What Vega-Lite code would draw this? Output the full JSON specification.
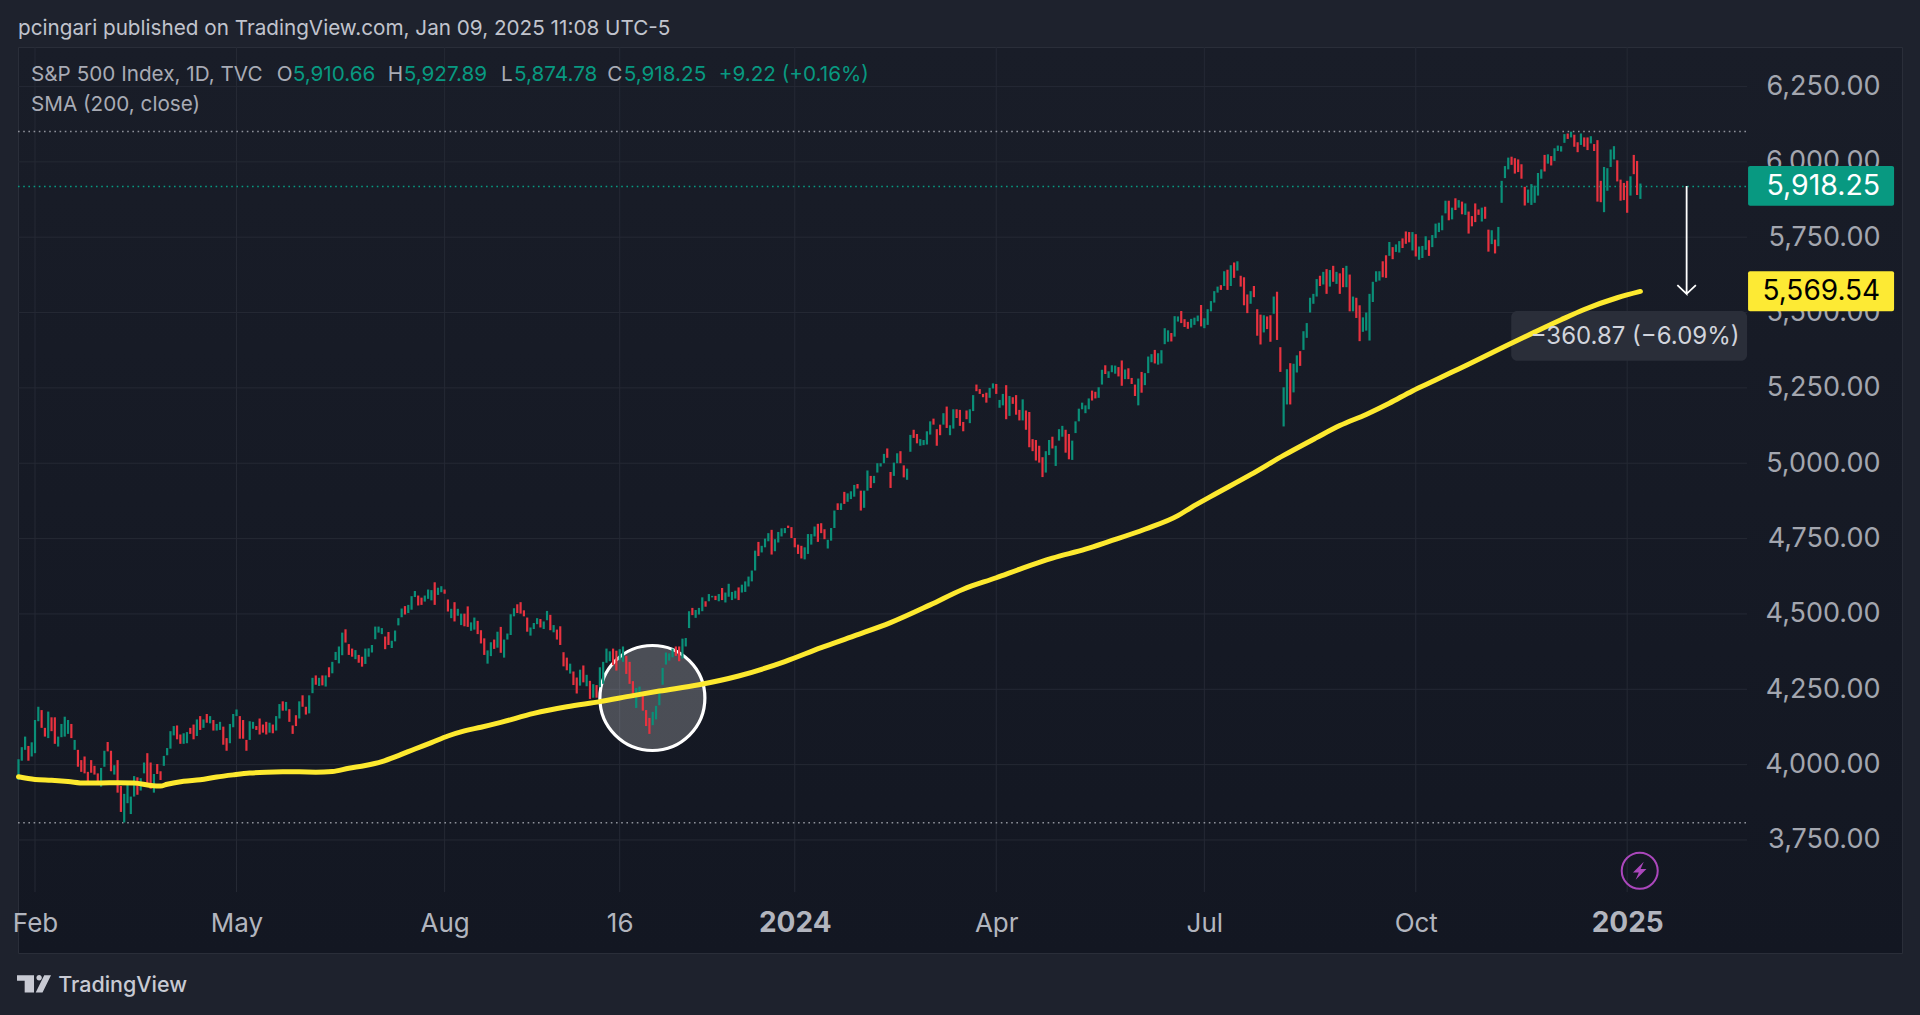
{"$schema":"https://vega.github.io/schema/vega-lite/v6.json","autosize":{"type":"none"},"padding":{"left":18,"top":47,"right":18,"bottom":62},"width":1884,"height":906,"background":"#1e222d",
"view":{"fill":{"x1":0,"y1":0,"x2":0,"y2":1,"gradient":"linear","stops":[{"offset":0,"color":"#191d28"},{"offset":1,"color":"#131722"}]},"stroke":"#2a2e39"},
"config":{"text":{"font":"Inter"},"axis":{"grid":false,"domain":false,"ticks":false}},
"datasets":{
"bars":[
{"i":-5,"l":3949,"h":4018,"k":"u"},{"i":-4,"l":4013,"h":4058,"k":"u"},{"i":-3,"l":4049,"h":4093,"k":"u"},{"i":-2,"l":4013,"h":4062,"k":"d"},{"i":-1,"l":4027,"h":4074,"k":"u"},{"i":0,"l":4038,"h":4148,"k":"u"},{"i":1,"l":4144,"h":4192,"k":"u"},{"i":2,"l":4122,"h":4181,"k":"d"},{"i":3,"l":4093,"h":4122,"k":"d"},{"i":4,"l":4088,"h":4176,"k":"u"},{"i":5,"l":4111,"h":4157,"k":"d"},{"i":6,"l":4069,"h":4157,"k":"d"},{"i":7,"l":4060,"h":4093,"k":"u"},{"i":8,"l":4091,"h":4135,"k":"u"},{"i":9,"l":4093,"h":4159,"k":"u"},{"i":10,"l":4102,"h":4148,"k":"u"},{"i":11,"l":4088,"h":4135,"k":"d"},{"i":12,"l":4049,"h":4082,"k":"u"},{"i":13,"l":3993,"h":4049,"k":"d"},{"i":14,"l":3976,"h":4015,"k":"d"},{"i":15,"l":3971,"h":4027,"k":"d"},{"i":16,"l":3942,"h":3976,"k":"d"},{"i":17,"l":3973,"h":4015,"k":"d"},{"i":18,"l":3967,"h":3996,"k":"d"},{"i":19,"l":3938,"h":3971,"k":"d"},{"i":20,"l":3927,"h":3989,"k":"u"},{"i":21,"l":3993,"h":4046,"k":"u"},{"i":22,"l":4044,"h":4075,"k":"d"},{"i":23,"l":3978,"h":4046,"k":"d"},{"i":24,"l":3967,"h":3998,"k":"u"},{"i":25,"l":3907,"h":4015,"k":"d"},{"i":26,"l":3843,"h":3929,"k":"d"},{"i":27,"l":3808,"h":3903,"k":"u"},{"i":28,"l":3872,"h":3936,"k":"u"},{"i":29,"l":3836,"h":3894,"k":"u"},{"i":30,"l":3894,"h":3962,"k":"u"},{"i":31,"l":3900,"h":3958,"k":"d"},{"i":32,"l":3914,"h":3955,"k":"u"},{"i":33,"l":3971,"h":4007,"k":"u"},{"i":34,"l":3931,"h":4038,"k":"d"},{"i":35,"l":3920,"h":4007,"k":"d"},{"i":36,"l":3907,"h":3969,"k":"u"},{"i":37,"l":3969,"h":4002,"k":"d"},{"i":38,"l":3949,"h":3978,"k":"d"},{"i":39,"l":3996,"h":4029,"k":"u"},{"i":40,"l":4031,"h":4055,"k":"u"},{"i":41,"l":4053,"h":4111,"k":"u"},{"i":42,"l":4097,"h":4128,"k":"u"},{"i":43,"l":4084,"h":4130,"k":"d"},{"i":44,"l":4069,"h":4100,"k":"d"},{"i":45,"l":4069,"h":4104,"k":"u"},{"i":46,"l":4071,"h":4108,"k":"u"},{"i":47,"l":4102,"h":4122,"k":"d"},{"i":48,"l":4084,"h":4133,"k":"d"},{"i":49,"l":4095,"h":4150,"k":"u"},{"i":50,"l":4115,"h":4161,"k":"d"},{"i":51,"l":4122,"h":4150,"k":"u"},{"i":52,"l":4139,"h":4168,"k":"d"},{"i":53,"l":4137,"h":4161,"k":"u"},{"i":54,"l":4113,"h":4148,"k":"d"},{"i":55,"l":4113,"h":4135,"k":"u"},{"i":56,"l":4115,"h":4142,"k":"u"},{"i":57,"l":4066,"h":4126,"k":"d"},{"i":58,"l":4046,"h":4088,"k":"d"},{"i":59,"l":4071,"h":4135,"k":"u"},{"i":60,"l":4124,"h":4168,"k":"u"},{"i":61,"l":4161,"h":4183,"k":"u"},{"i":62,"l":4086,"h":4161,"k":"d"},{"i":63,"l":4086,"h":4148,"k":"d"},{"i":64,"l":4046,"h":4082,"k":"d"},{"i":65,"l":4082,"h":4144,"k":"u"},{"i":66,"l":4119,"h":4142,"k":"u"},{"i":67,"l":4115,"h":4128,"k":"d"},{"i":68,"l":4100,"h":4153,"k":"d"},{"i":69,"l":4106,"h":4133,"k":"d"},{"i":70,"l":4100,"h":4142,"k":"d"},{"i":71,"l":4106,"h":4139,"k":"u"},{"i":72,"l":4104,"h":4133,"k":"d"},{"i":73,"l":4113,"h":4161,"k":"u"},{"i":74,"l":4153,"h":4201,"k":"u"},{"i":75,"l":4179,"h":4210,"k":"d"},{"i":76,"l":4179,"h":4208,"k":"u"},{"i":77,"l":4142,"h":4184,"k":"d"},{"i":78,"l":4102,"h":4130,"k":"d"},{"i":79,"l":4128,"h":4164,"k":"d"},{"i":80,"l":4153,"h":4210,"k":"u"},{"i":81,"l":4192,"h":4230,"k":"d"},{"i":82,"l":4166,"h":4192,"k":"d"},{"i":83,"l":4170,"h":4230,"k":"u"},{"i":84,"l":4237,"h":4288,"k":"u"},{"i":85,"l":4265,"h":4296,"k":"d"},{"i":86,"l":4261,"h":4288,"k":"u"},{"i":87,"l":4263,"h":4296,"k":"d"},{"i":88,"l":4259,"h":4296,"k":"u"},{"i":89,"l":4290,"h":4323,"k":"d"},{"i":90,"l":4303,"h":4341,"k":"u"},{"i":91,"l":4347,"h":4374,"k":"u"},{"i":92,"l":4336,"h":4392,"k":"u"},{"i":93,"l":4363,"h":4438,"k":"u"},{"i":94,"l":4405,"h":4449,"k":"d"},{"i":95,"l":4364,"h":4400,"k":"d"},{"i":96,"l":4358,"h":4385,"k":"d"},{"i":97,"l":4350,"h":4380,"k":"u"},{"i":98,"l":4338,"h":4364,"k":"d"},{"i":99,"l":4325,"h":4358,"k":"d"},{"i":100,"l":4334,"h":4385,"k":"u"},{"i":101,"l":4358,"h":4386,"k":"u"},{"i":102,"l":4372,"h":4397,"k":"u"},{"i":103,"l":4416,"h":4458,"k":"u"},{"i":104,"l":4438,"h":4458,"k":"u"},{"i":105,"l":4433,"h":4453,"k":"u"},{"i":106,"l":4383,"h":4425,"k":"d"},{"i":107,"l":4397,"h":4440,"k":"d"},{"i":108,"l":4387,"h":4411,"k":"u"},{"i":109,"l":4409,"h":4445,"k":"u"},{"i":110,"l":4462,"h":4486,"k":"u"},{"i":111,"l":4489,"h":4518,"k":"u"},{"i":112,"l":4498,"h":4526,"k":"d"},{"i":113,"l":4503,"h":4530,"k":"u"},{"i":114,"l":4514,"h":4559,"k":"u"},{"i":115,"l":4556,"h":4576,"k":"u"},{"i":116,"l":4528,"h":4561,"k":"d"},{"i":117,"l":4530,"h":4554,"k":"d"},{"i":118,"l":4541,"h":4561,"k":"u"},{"i":119,"l":4550,"h":4581,"k":"u"},{"i":120,"l":4545,"h":4579,"k":"u"},{"i":121,"l":4530,"h":4605,"k":"d"},{"i":122,"l":4563,"h":4587,"k":"u"},{"i":123,"l":4572,"h":4592,"k":"u"},{"i":124,"l":4567,"h":4581,"k":"d"},{"i":125,"l":4508,"h":4548,"k":"d"},{"i":126,"l":4486,"h":4517,"k":"u"},{"i":127,"l":4475,"h":4539,"k":"d"},{"i":128,"l":4494,"h":4517,"k":"u"},{"i":129,"l":4463,"h":4501,"k":"u"},{"i":130,"l":4459,"h":4501,"k":"d"},{"i":131,"l":4457,"h":4525,"k":"d"},{"i":132,"l":4444,"h":4472,"k":"u"},{"i":133,"l":4448,"h":4488,"k":"u"},{"i":134,"l":4433,"h":4477,"k":"d"},{"i":135,"l":4402,"h":4446,"k":"d"},{"i":136,"l":4364,"h":4419,"k":"d"},{"i":137,"l":4335,"h":4379,"k":"u"},{"i":138,"l":4360,"h":4406,"k":"u"},{"i":139,"l":4384,"h":4415,"k":"d"},{"i":140,"l":4388,"h":4441,"k":"u"},{"i":141,"l":4371,"h":4457,"k":"d"},{"i":142,"l":4355,"h":4415,"k":"u"},{"i":143,"l":4415,"h":4435,"k":"u"},{"i":144,"l":4430,"h":4499,"k":"u"},{"i":145,"l":4492,"h":4519,"k":"u"},{"i":146,"l":4503,"h":4532,"k":"d"},{"i":147,"l":4501,"h":4539,"k":"d"},{"i":148,"l":4492,"h":4512,"k":"d"},{"i":149,"l":4441,"h":4488,"k":"d"},{"i":150,"l":4428,"h":4455,"k":"u"},{"i":151,"l":4450,"h":4470,"k":"u"},{"i":152,"l":4466,"h":4486,"k":"u"},{"i":153,"l":4455,"h":4483,"k":"d"},{"i":154,"l":4450,"h":4475,"k":"u"},{"i":155,"l":4479,"h":4510,"k":"u"},{"i":156,"l":4446,"h":4497,"k":"d"},{"i":157,"l":4439,"h":4463,"k":"u"},{"i":158,"l":4415,"h":4448,"k":"d"},{"i":159,"l":4397,"h":4459,"k":"d"},{"i":160,"l":4326,"h":4373,"k":"d"},{"i":161,"l":4313,"h":4355,"k":"d"},{"i":162,"l":4302,"h":4335,"k":"u"},{"i":163,"l":4264,"h":4309,"k":"d"},{"i":164,"l":4236,"h":4289,"k":"d"},{"i":165,"l":4262,"h":4315,"k":"u"},{"i":166,"l":4273,"h":4329,"k":"d"},{"i":167,"l":4260,"h":4298,"k":"u"},{"i":168,"l":4218,"h":4278,"k":"d"},{"i":169,"l":4222,"h":4267,"k":"u"},{"i":170,"l":4222,"h":4264,"k":"d"},{"i":171,"l":4257,"h":4323,"k":"u"},{"i":172,"l":4268,"h":4341,"k":"u"},{"i":173,"l":4338,"h":4385,"k":"u"},{"i":174,"l":4343,"h":4376,"k":"u"},{"i":175,"l":4330,"h":4385,"k":"d"},{"i":176,"l":4312,"h":4378,"k":"d"},{"i":177,"l":4347,"h":4383,"k":"u"},{"i":178,"l":4341,"h":4392,"k":"u"},{"i":179,"l":4301,"h":4361,"k":"d"},{"i":180,"l":4268,"h":4341,"k":"d"},{"i":181,"l":4221,"h":4277,"k":"d"},{"i":182,"l":4188,"h":4254,"k":"u"},{"i":183,"l":4230,"h":4259,"k":"u"},{"i":184,"l":4179,"h":4230,"k":"d"},{"i":185,"l":4128,"h":4181,"k":"d"},{"i":186,"l":4102,"h":4155,"k":"d"},{"i":187,"l":4131,"h":4175,"k":"u"},{"i":188,"l":4150,"h":4195,"k":"u"},{"i":189,"l":4197,"h":4246,"k":"u"},{"i":190,"l":4265,"h":4321,"k":"u"},{"i":191,"l":4332,"h":4372,"k":"u"},{"i":192,"l":4345,"h":4369,"k":"u"},{"i":193,"l":4356,"h":4385,"k":"u"},{"i":194,"l":4361,"h":4392,"k":"d"},{"i":195,"l":4343,"h":4392,"k":"d"},{"i":196,"l":4352,"h":4418,"k":"u"},{"i":197,"l":4392,"h":4420,"k":"u"},{"i":198,"l":4453,"h":4509,"k":"u"},{"i":199,"l":4496,"h":4520,"k":"d"},{"i":200,"l":4487,"h":4513,"k":"u"},{"i":201,"l":4498,"h":4520,"k":"u"},{"i":202,"l":4509,"h":4555,"k":"u"},{"i":203,"l":4524,"h":4542,"k":"d"},{"i":204,"l":4542,"h":4566,"k":"u"},{"i":205,"l":4555,"h":4560,"k":"u"},{"i":206,"l":4546,"h":4560,"k":"d"},{"i":207,"l":4542,"h":4566,"k":"u"},{"i":208,"l":4546,"h":4586,"k":"d"},{"i":209,"l":4538,"h":4571,"k":"u"},{"i":210,"l":4557,"h":4600,"k":"u"},{"i":211,"l":4546,"h":4573,"k":"u"},{"i":212,"l":4551,"h":4577,"k":"u"},{"i":213,"l":4546,"h":4588,"k":"d"},{"i":214,"l":4571,"h":4597,"k":"u"},{"i":215,"l":4573,"h":4608,"k":"u"},{"i":216,"l":4591,"h":4624,"k":"u"},{"i":217,"l":4608,"h":4644,"k":"u"},{"i":218,"l":4644,"h":4710,"k":"u"},{"i":219,"l":4692,"h":4739,"k":"d"},{"i":220,"l":4704,"h":4726,"k":"u"},{"i":221,"l":4721,"h":4750,"k":"u"},{"i":222,"l":4741,"h":4768,"k":"u"},{"i":223,"l":4697,"h":4779,"k":"d"},{"i":224,"l":4708,"h":4748,"k":"u"},{"i":225,"l":4737,"h":4772,"k":"u"},{"i":226,"l":4757,"h":4784,"k":"u"},{"i":227,"l":4768,"h":4785,"k":"u"},{"i":228,"l":4785,"h":4793,"k":"d"},{"i":229,"l":4752,"h":4788,"k":"d"},{"i":230,"l":4721,"h":4752,"k":"d"},{"i":231,"l":4699,"h":4730,"k":"d"},{"i":232,"l":4684,"h":4726,"k":"d"},{"i":233,"l":4681,"h":4721,"k":"u"},{"i":234,"l":4699,"h":4765,"k":"u"},{"i":235,"l":4730,"h":4765,"k":"u"},{"i":236,"l":4757,"h":4790,"k":"u"},{"i":237,"l":4739,"h":4799,"k":"d"},{"i":238,"l":4768,"h":4801,"k":"d"},{"i":239,"l":4748,"h":4781,"k":"d"},{"i":240,"l":4717,"h":4746,"k":"u"},{"i":241,"l":4743,"h":4785,"k":"u"},{"i":242,"l":4785,"h":4843,"k":"u"},{"i":243,"l":4845,"h":4867,"k":"d"},{"i":244,"l":4845,"h":4867,"k":"u"},{"i":245,"l":4865,"h":4905,"k":"d"},{"i":246,"l":4872,"h":4900,"k":"u"},{"i":247,"l":4881,"h":4907,"k":"u"},{"i":248,"l":4889,"h":4928,"k":"u"},{"i":249,"l":4916,"h":4931,"k":"d"},{"i":250,"l":4843,"h":4909,"k":"d"},{"i":251,"l":4852,"h":4909,"k":"u"},{"i":252,"l":4909,"h":4976,"k":"u"},{"i":253,"l":4918,"h":4958,"k":"d"},{"i":254,"l":4934,"h":4958,"k":"u"},{"i":255,"l":4969,"h":5000,"k":"u"},{"i":256,"l":4989,"h":5000,"k":"u"},{"i":257,"l":5000,"h":5031,"k":"u"},{"i":258,"l":5018,"h":5049,"k":"d"},{"i":259,"l":4918,"h":4971,"k":"d"},{"i":260,"l":4958,"h":5002,"k":"u"},{"i":261,"l":5000,"h":5033,"k":"u"},{"i":262,"l":5000,"h":5040,"k":"d"},{"i":263,"l":4953,"h":4993,"k":"d"},{"i":264,"l":4945,"h":4982,"k":"u"},{"i":265,"l":5038,"h":5094,"k":"u"},{"i":266,"l":5084,"h":5111,"k":"d"},{"i":267,"l":5066,"h":5097,"k":"d"},{"i":268,"l":5058,"h":5080,"k":"u"},{"i":269,"l":5060,"h":5077,"k":"u"},{"i":270,"l":5062,"h":5106,"k":"u"},{"i":271,"l":5095,"h":5139,"k":"u"},{"i":272,"l":5128,"h":5148,"k":"d"},{"i":273,"l":5058,"h":5113,"k":"d"},{"i":274,"l":5093,"h":5128,"k":"d"},{"i":275,"l":5128,"h":5166,"k":"u"},{"i":276,"l":5117,"h":5188,"k":"d"},{"i":277,"l":5093,"h":5126,"k":"u"},{"i":278,"l":5115,"h":5179,"k":"u"},{"i":279,"l":5150,"h":5179,"k":"d"},{"i":280,"l":5124,"h":5177,"k":"d"},{"i":281,"l":5106,"h":5137,"k":"d"},{"i":282,"l":5146,"h":5175,"k":"d"},{"i":283,"l":5133,"h":5179,"k":"u"},{"i":284,"l":5173,"h":5226,"k":"u"},{"i":285,"l":5239,"h":5261,"k":"d"},{"i":286,"l":5230,"h":5246,"k":"d"},{"i":287,"l":5219,"h":5230,"k":"d"},{"i":288,"l":5201,"h":5234,"k":"d"},{"i":289,"l":5217,"h":5250,"k":"u"},{"i":290,"l":5248,"h":5265,"k":"u"},{"i":291,"l":5230,"h":5263,"k":"d"},{"i":292,"l":5184,"h":5210,"k":"u"},{"i":293,"l":5192,"h":5230,"k":"u"},{"i":294,"l":5146,"h":5259,"k":"d"},{"i":295,"l":5157,"h":5223,"k":"u"},{"i":296,"l":5197,"h":5219,"k":"d"},{"i":297,"l":5161,"h":5226,"k":"d"},{"i":298,"l":5142,"h":5177,"k":"d"},{"i":299,"l":5142,"h":5212,"k":"u"},{"i":300,"l":5111,"h":5175,"k":"d"},{"i":301,"l":5053,"h":5170,"k":"d"},{"i":302,"l":5040,"h":5080,"k":"d"},{"i":303,"l":5009,"h":5077,"k":"d"},{"i":304,"l":5002,"h":5058,"k":"d"},{"i":305,"l":4954,"h":5020,"k":"d"},{"i":306,"l":4969,"h":5040,"k":"u"},{"i":307,"l":5027,"h":5077,"k":"u"},{"i":308,"l":5049,"h":5088,"k":"d"},{"i":309,"l":4991,"h":5058,"k":"u"},{"i":310,"l":5075,"h":5113,"k":"u"},{"i":311,"l":5088,"h":5124,"k":"u"},{"i":312,"l":5035,"h":5111,"k":"d"},{"i":313,"l":5013,"h":5097,"k":"d"},{"i":314,"l":5011,"h":5075,"k":"u"},{"i":315,"l":5100,"h":5139,"k":"u"},{"i":316,"l":5139,"h":5181,"k":"u"},{"i":317,"l":5179,"h":5201,"k":"u"},{"i":318,"l":5166,"h":5192,"k":"u"},{"i":319,"l":5179,"h":5215,"k":"u"},{"i":320,"l":5208,"h":5241,"k":"d"},{"i":321,"l":5215,"h":5237,"k":"d"},{"i":322,"l":5217,"h":5252,"k":"u"},{"i":323,"l":5261,"h":5310,"k":"u"},{"i":324,"l":5296,"h":5325,"k":"d"},{"i":325,"l":5283,"h":5305,"k":"u"},{"i":326,"l":5302,"h":5325,"k":"u"},{"i":327,"l":5297,"h":5324,"k":"u"},{"i":328,"l":5288,"h":5319,"k":"d"},{"i":329,"l":5257,"h":5341,"k":"d"},{"i":330,"l":5279,"h":5311,"k":"u"},{"i":331,"l":5279,"h":5315,"k":"d"},{"i":332,"l":5263,"h":5283,"k":"d"},{"i":333,"l":5223,"h":5261,"k":"d"},{"i":334,"l":5192,"h":5281,"k":"u"},{"i":335,"l":5234,"h":5303,"k":"d"},{"i":336,"l":5259,"h":5299,"k":"u"},{"i":337,"l":5299,"h":5354,"k":"u"},{"i":338,"l":5335,"h":5362,"k":"u"},{"i":339,"l":5331,"h":5376,"k":"d"},{"i":340,"l":5327,"h":5365,"k":"u"},{"i":341,"l":5331,"h":5375,"k":"u"},{"i":342,"l":5395,"h":5448,"k":"u"},{"i":343,"l":5403,"h":5441,"k":"u"},{"i":344,"l":5404,"h":5432,"k":"d"},{"i":345,"l":5420,"h":5488,"k":"u"},{"i":346,"l":5470,"h":5487,"k":"u"},{"i":347,"l":5465,"h":5505,"k":"d"},{"i":348,"l":5452,"h":5478,"k":"d"},{"i":349,"l":5446,"h":5469,"k":"d"},{"i":350,"l":5450,"h":5479,"k":"u"},{"i":351,"l":5459,"h":5483,"k":"u"},{"i":352,"l":5471,"h":5490,"k":"u"},{"i":353,"l":5454,"h":5525,"k":"d"},{"i":354,"l":5448,"h":5481,"k":"u"},{"i":355,"l":5459,"h":5511,"k":"u"},{"i":356,"l":5504,"h":5538,"k":"u"},{"i":357,"l":5533,"h":5571,"k":"u"},{"i":358,"l":5566,"h":5586,"k":"u"},{"i":359,"l":5575,"h":5591,"k":"d"},{"i":360,"l":5588,"h":5637,"k":"u"},{"i":361,"l":5575,"h":5642,"k":"d"},{"i":362,"l":5588,"h":5657,"k":"u"},{"i":363,"l":5615,"h":5666,"k":"d"},{"i":364,"l":5639,"h":5670,"k":"u"},{"i":365,"l":5586,"h":5622,"k":"d"},{"i":366,"l":5524,"h":5617,"k":"d"},{"i":367,"l":5498,"h":5560,"k":"d"},{"i":368,"l":5529,"h":5571,"k":"u"},{"i":369,"l":5551,"h":5588,"k":"d"},{"i":370,"l":5423,"h":5511,"k":"d"},{"i":371,"l":5394,"h":5493,"k":"d"},{"i":372,"l":5434,"h":5491,"k":"u"},{"i":373,"l":5445,"h":5487,"k":"d"},{"i":374,"l":5403,"h":5491,"k":"d"},{"i":375,"l":5496,"h":5553,"k":"u"},{"i":376,"l":5409,"h":5569,"k":"d"},{"i":377,"l":5303,"h":5385,"k":"d"},{"i":378,"l":5122,"h":5252,"k":"u"},{"i":379,"l":5195,"h":5312,"k":"u"},{"i":380,"l":5195,"h":5332,"k":"d"},{"i":381,"l":5235,"h":5330,"k":"u"},{"i":382,"l":5301,"h":5358,"k":"u"},{"i":383,"l":5323,"h":5372,"k":"d"},{"i":384,"l":5376,"h":5438,"k":"u"},{"i":385,"l":5416,"h":5465,"k":"u"},{"i":386,"l":5500,"h":5549,"k":"u"},{"i":387,"l":5529,"h":5562,"k":"u"},{"i":388,"l":5553,"h":5611,"k":"u"},{"i":389,"l":5588,"h":5622,"k":"d"},{"i":390,"l":5593,"h":5635,"k":"u"},{"i":391,"l":5562,"h":5644,"k":"d"},{"i":392,"l":5586,"h":5641,"k":"u"},{"i":393,"l":5602,"h":5655,"k":"d"},{"i":394,"l":5595,"h":5635,"k":"u"},{"i":395,"l":5562,"h":5630,"k":"d"},{"i":396,"l":5584,"h":5648,"k":"d"},{"i":397,"l":5584,"h":5655,"k":"u"},{"i":398,"l":5504,"h":5626,"k":"d"},{"i":399,"l":5504,"h":5553,"k":"u"},{"i":400,"l":5482,"h":5549,"k":"d"},{"i":401,"l":5405,"h":5524,"k":"d"},{"i":402,"l":5436,"h":5484,"k":"u"},{"i":403,"l":5440,"h":5500,"k":"u"},{"i":404,"l":5407,"h":5562,"k":"u"},{"i":405,"l":5535,"h":5602,"k":"u"},{"i":406,"l":5602,"h":5637,"k":"u"},{"i":407,"l":5606,"h":5637,"k":"u"},{"i":408,"l":5617,"h":5670,"k":"d"},{"i":409,"l":5615,"h":5690,"k":"d"},{"i":410,"l":5688,"h":5734,"k":"u"},{"i":411,"l":5677,"h":5717,"k":"d"},{"i":412,"l":5701,"h":5726,"k":"u"},{"i":413,"l":5699,"h":5737,"k":"u"},{"i":414,"l":5714,"h":5746,"k":"d"},{"i":415,"l":5728,"h":5769,"k":"d"},{"i":416,"l":5733,"h":5767,"k":"d"},{"i":417,"l":5706,"h":5767,"k":"u"},{"i":418,"l":5686,"h":5760,"k":"d"},{"i":419,"l":5675,"h":5719,"k":"u"},{"i":420,"l":5681,"h":5721,"k":"u"},{"i":421,"l":5708,"h":5753,"k":"u"},{"i":422,"l":5688,"h":5740,"k":"d"},{"i":423,"l":5717,"h":5757,"k":"u"},{"i":424,"l":5747,"h":5795,"k":"u"},{"i":425,"l":5767,"h":5798,"k":"u"},{"i":426,"l":5773,"h":5822,"k":"u"},{"i":427,"l":5829,"h":5871,"k":"u"},{"i":428,"l":5806,"h":5871,"k":"d"},{"i":429,"l":5809,"h":5848,"k":"u"},{"i":430,"l":5840,"h":5879,"k":"d"},{"i":431,"l":5848,"h":5873,"k":"u"},{"i":432,"l":5826,"h":5868,"k":"d"},{"i":433,"l":5824,"h":5862,"k":"u"},{"i":434,"l":5762,"h":5835,"k":"d"},{"i":435,"l":5786,"h":5820,"k":"d"},{"i":436,"l":5800,"h":5862,"k":"d"},{"i":437,"l":5824,"h":5842,"k":"d"},{"i":438,"l":5802,"h":5848,"k":"u"},{"i":439,"l":5811,"h":5851,"k":"d"},{"i":440,"l":5702,"h":5775,"k":"d"},{"i":441,"l":5727,"h":5773,"k":"u"},{"i":442,"l":5696,"h":5742,"k":"d"},{"i":443,"l":5720,"h":5784,"k":"u"},{"i":444,"l":5864,"h":5937,"k":"u"},{"i":445,"l":5946,"h":5986,"k":"u"},{"i":446,"l":5975,"h":6014,"k":"u"},{"i":447,"l":5990,"h":6017,"k":"d"},{"i":448,"l":5961,"h":6012,"k":"d"},{"i":449,"l":5966,"h":6008,"k":"d"},{"i":450,"l":5944,"h":5992,"k":"d"},{"i":451,"l":5855,"h":5917,"k":"d"},{"i":452,"l":5864,"h":5908,"k":"u"},{"i":453,"l":5857,"h":5926,"k":"u"},{"i":454,"l":5864,"h":5921,"k":"u"},{"i":455,"l":5888,"h":5963,"k":"u"},{"i":456,"l":5944,"h":5975,"k":"u"},{"i":457,"l":5968,"h":6023,"k":"d"},{"i":458,"l":5994,"h":6025,"k":"u"},{"i":459,"l":5988,"h":6019,"k":"d"},{"i":460,"l":6003,"h":6045,"k":"u"},{"i":461,"l":6036,"h":6054,"k":"u"},{"i":462,"l":6034,"h":6052,"k":"u"},{"i":463,"l":6063,"h":6092,"k":"u"},{"i":464,"l":6076,"h":6094,"k":"d"},{"i":465,"l":6081,"h":6100,"k":"u"},{"i":466,"l":6050,"h":6090,"k":"d"},{"i":467,"l":6032,"h":6065,"k":"d"},{"i":468,"l":6056,"h":6094,"k":"u"},{"i":469,"l":6050,"h":6081,"k":"d"},{"i":470,"l":6039,"h":6081,"k":"d"},{"i":471,"l":6061,"h":6085,"k":"u"},{"i":472,"l":6036,"h":6059,"k":"d"},{"i":473,"l":5868,"h":6072,"k":"d"},{"i":474,"l":5866,"h":5937,"k":"d"},{"i":475,"l":5833,"h":5983,"k":"u"},{"i":476,"l":5904,"h":5979,"k":"u"},{"i":477,"l":5983,"h":6041,"k":"u"},{"i":478,"l":6008,"h":6052,"k":"u"},{"i":479,"l":5935,"h":6005,"k":"d"},{"i":480,"l":5871,"h":5941,"k":"d"},{"i":481,"l":5873,"h":5930,"k":"d"},{"i":482,"l":5831,"h":5937,"k":"d"},{"i":483,"l":5888,"h":5952,"k":"u"},{"i":484,"l":5959,"h":6023,"k":"d"},{"i":485,"l":5890,"h":6003,"k":"d"},{"i":486,"l":5877,"h":5928,"k":"u"}
],
"sma":[{"i":-5,"p":3960},{"i":0,"p":3951},{"i":5,"p":3948},{"i":10,"p":3944},{"i":15,"p":3939},{"i":20,"p":3939},{"i":25,"p":3940},{"i":30,"p":3939},{"i":35,"p":3931},{"i":38,"p":3929},{"i":40,"p":3935},{"i":45,"p":3945},{"i":50,"p":3950},{"i":55,"p":3959},{"i":60,"p":3966},{"i":65,"p":3972},{"i":70,"p":3975},{"i":75,"p":3976},{"i":80,"p":3976},{"i":85,"p":3975},{"i":90,"p":3977},{"i":95,"p":3988},{"i":100,"p":3997},{"i":105,"p":4010},{"i":110,"p":4030},{"i":115,"p":4052},{"i":120,"p":4073},{"i":125,"p":4095},{"i":130,"p":4112},{"i":135,"p":4124},{"i":141,"p":4140},{"i":151,"p":4170},{"i":161,"p":4192},{"i":171,"p":4209},{"i":181,"p":4229},{"i":189,"p":4244},{"i":201,"p":4265},{"i":213,"p":4294},{"i":227,"p":4342},{"i":238,"p":4388},{"i":248,"p":4427},{"i":259,"p":4471},{"i":271,"p":4530},{"i":281,"p":4582},{"i":291,"p":4620},{"i":299,"p":4652},{"i":308,"p":4685},{"i":318,"p":4715},{"i":325,"p":4740},{"i":336,"p":4781},{"i":346,"p":4826},{"i":350,"p":4853},{"i":356,"p":4890},{"i":368,"p":4962},{"i":378,"p":5026},{"i":388,"p":5085},{"i":395,"p":5125},{"i":403,"p":5162},{"i":410,"p":5199},{"i":417,"p":5240},{"i":424,"p":5276},{"i":431,"p":5313},{"i":438,"p":5350},{"i":446,"p":5393},{"i":454,"p":5435},{"i":462,"p":5476},{"i":469,"p":5510},{"i":479,"p":5549},{"i":486,"p":5570}],
"vgrid":[{"i":0,"p":3577,"p2":6381},{"i":61,"p":3577,"p2":6381},{"i":124,"p":3577,"p2":6381},{"i":177,"p":3577,"p2":6381},{"i":230,"p":3577,"p2":6381},{"i":291,"p":3577,"p2":6381},{"i":354,"p":3577,"p2":6381},{"i":418,"p":3577,"p2":6381},{"i":482,"p":3577,"p2":6381}],
"hgrid":[{"i":-5.15,"i2":518.3,"p":3750},{"i":-5.15,"i2":518.3,"p":4000},{"i":-5.15,"i2":518.3,"p":4250},{"i":-5.15,"i2":518.3,"p":4500},{"i":-5.15,"i2":518.3,"p":4750},{"i":-5.15,"i2":518.3,"p":5000},{"i":-5.15,"i2":518.3,"p":5250},{"i":-5.15,"i2":518.3,"p":5500},{"i":-5.15,"i2":518.3,"p":5750},{"i":-5.15,"i2":518.3,"p":6000},{"i":-5.15,"i2":518.3,"p":6250}]
},
"encoding":{
"x":{"field":"i","type":"quantitative","title":null,"scale":{"domain":[-5.15,565.2],"nice":false,"zero":false},"axis":{"values":[0,61,124,177,230,291,354,418,482],"title":null,"labelExpr":"datum.value==0?'Feb':datum.value==61?'May':datum.value==124?'Aug':datum.value==177?'16':datum.value==230?'2024':datum.value==291?'Apr':datum.value==354?'Jul':datum.value==418?'Oct':'2025'","labelFont":"Inter","labelFontSize":{"condition":{"test":"datum.value==230||datum.value==482","value":28},"value":26},"labelColor":"#b2b5be","labelFontWeight":{"condition":{"test":"datum.value==230||datum.value==482","value":"bold"},"value":"normal"},"labelPadding":-30,"labelBaseline":"middle","labelAlign":"center","labelOverlap":false,"labelFlush":false,"tickSize":0,"grid":false}},
"y":{"field":"p","type":"quantitative","title":null,"scale":{"domain":[3375,6381],"nice":false,"zero":false},"axis":{"orient":"right","values":[3750,4000,4250,4500,4750,5000,5250,5500,5750,6000,6250],"title":null,"format":",.2f","labelFont":"Inter","labelFontSize":27,"labelColor":"#a3a6af","labelPadding":-22,"labelAlign":"right","labelLimit":300,"labelOverlap":false,"labelFlush":false,"tickSize":0,"grid":false}}
},
"layer":[
{"data":{"name":"vgrid"},"mark":{"type":"rule","color":"#252934","strokeWidth":1},"encoding":{"y2":{"field":"p2"}}},
{"data":{"name":"hgrid"},"mark":{"type":"rule","color":"#252934","strokeWidth":1},"encoding":{"x2":{"field":"i2"}}},
{"data":{"values":[{"i":-5.15,"i2":518.3,"p":6101},{"i":-5.15,"i2":518.3,"p":3807}]},"mark":{"type":"rule","color":"#8e919a","strokeWidth":1.5,"strokeDash":[1.6,3.6]},"encoding":{"x2":{"field":"i2"}}},
{"data":{"values":[{"i":-5.15,"i2":518.3,"p":5918.25}]},"mark":{"type":"rule","color":"#089981","strokeWidth":1.5,"strokeDash":[1.6,3.6]},"encoding":{"x2":{"field":"i2"}}},
{"data":{"values":[{"i":186.9,"p":4221}]},"mark":{"type":"point","filled":false,"size":11025,"fill":"#ffffff","fillOpacity":0.23,"stroke":"#ffffff","strokeWidth":3.2,"strokeOpacity":1,"opacity":1}},
{"data":{"name":"bars"},"mark":{"type":"rule","strokeWidth":2.2},"encoding":{"y":{"field":"l","type":"quantitative","title":null,"scale":{"domain":[3375,6381],"nice":false,"zero":false}},"y2":{"field":"h"},"color":{"field":"k","type":"nominal","legend":null,"scale":{"domain":["u","d"],"range":["#0a8f78","#e8323f"]}}}},
{"data":{"values":[{"i":446.9,"i2":518.3,"p":5505,"p2":5340}]},"mark":{"type":"rect","color":"#2a2e39","cornerRadius":6},"encoding":{"x2":{"field":"i2"},"y2":{"field":"p2"}}},
{"data":{"name":"sma"},"mark":{"type":"line","color":"#fde92f","strokeWidth":5,"interpolate":"monotone","strokeCap":"round"}},
{"data":{"values":[{"n":1,"i":500,"p":5920},{"n":2,"i":500,"p":5562},{"n":3,"i":497.2,"p":5591},{"n":4,"i":500,"p":5562},{"n":5,"i":502.8,"p":5591}]},"mark":{"type":"line","color":"#ffffff","strokeWidth":1.8},"encoding":{"order":{"field":"n"}}},
{"data":{"values":[{"i":485.8,"p":3648}]},"mark":{"type":"point","filled":false,"size":1296,"stroke":"#ab47bc","strokeWidth":2,"opacity":1}},
{"data":{"values":[{"i":485.8,"p":3648}]},"mark":{"type":"point","filled":true,"size":324,"shape":"M0.45,-1 L-0.75,0.2 L-0.1,0.2 L-0.45,1 L0.75,-0.2 L0.1,-0.2 Z","color":"#ab47bc","opacity":1}},
{"data":{"values":[{"i":-0.3,"p":3272}]},"mark":{"type":"point","filled":true,"size":1156,"shape":"M-1,-0.52 L0,-0.52 L0,0.5 L-0.55,0.5 L-0.55,-0.2 L-1,-0.2 Z M1,-0.52 L0.5,0.5 L0.1,0.5 L0.6,-0.52 Z M0.14,-0.37 A0.16,0.16 0 1,0 0.46,-0.37 A0.16,0.16 0 1,0 0.14,-0.37 Z","color":"#c8cad3","opacity":1}},
{"data":{"values":[{"i":518.6,"i2":562.8,"p":5986,"p2":5854}]},"mark":{"type":"rect","color":"#089981","cornerRadius":2},"encoding":{"x2":{"field":"i2"},"y2":{"field":"p2"}}},
{"data":{"values":[{"i":518.6,"i2":562.8,"p":5637,"p2":5504}]},"mark":{"type":"rect","color":"#fdea34","cornerRadius":2},"encoding":{"x2":{"field":"i2"},"y2":{"field":"p2"}}},
{"data":{"values":[{"i":558.6,"p":5918.25,"t":"5,918.25"}]},"mark":{"type":"text","align":"right","baseline":"middle","fontSize":28.5,"color":"#ffffff"},"encoding":{"text":{"field":"t"}}},
{"data":{"values":[{"i":558.6,"p":5569.54,"t":"5,569.54"}]},"mark":{"type":"text","align":"right","baseline":"middle","fontSize":28,"color":"#000000"},"encoding":{"text":{"field":"t"}}},
{"data":{"values":[{"i":452.8,"p":5419,"t":"−360.87 (−6.09%)"}]},"mark":{"type":"text","align":"left","baseline":"middle","fontSize":24,"color":"#d1d4dc"},"encoding":{"text":{"field":"t"}}},
{"data":{"values":[{"i":-1.21,"p":6288,"t":"S&P 500 Index, 1D, TVC"},{"i":73.2,"p":6288,"t":"O"},{"i":106.8,"p":6288,"t":"H"},{"i":141.1,"p":6288,"t":"L"},{"i":173.2,"p":6288,"t":"C"},{"i":-1.21,"p":6188,"t":"SMA (200, close)"}]},"mark":{"type":"text","align":"left","baseline":"middle","fontSize":20.7,"color":"#a8abb5"},"encoding":{"text":{"field":"t"}}},
{"data":{"values":[{"i":78,"p":6288,"t":"5,910.66"},{"i":111.6,"p":6288,"t":"5,927.89"},{"i":145,"p":6288,"t":"5,874.78"},{"i":178.2,"p":6288,"t":"5,918.25"},{"i":207,"p":6288,"t":"+9.22 (+0.16%)"}]},"mark":{"type":"text","align":"left","baseline":"middle","fontSize":20.7,"color":"#089981"},"encoding":{"text":{"field":"t"}}},
{"data":{"values":[{"i":-5.15,"p":6440,"t":"pcingari published on TradingView.com, Jan 09, 2025 11:08 UTC-5"}]},"mark":{"type":"text","align":"left","baseline":"middle","fontSize":20.7,"color":"#c1c4cd"},"encoding":{"text":{"field":"t"}}},
{"data":{"values":[{"i":7,"p":3266,"t":"TradingView"}]},"mark":{"type":"text","align":"left","baseline":"middle","fontSize":21.5,"fontWeight":500,"color":"#c8cad3"},"encoding":{"text":{"field":"t"}}}
]}
